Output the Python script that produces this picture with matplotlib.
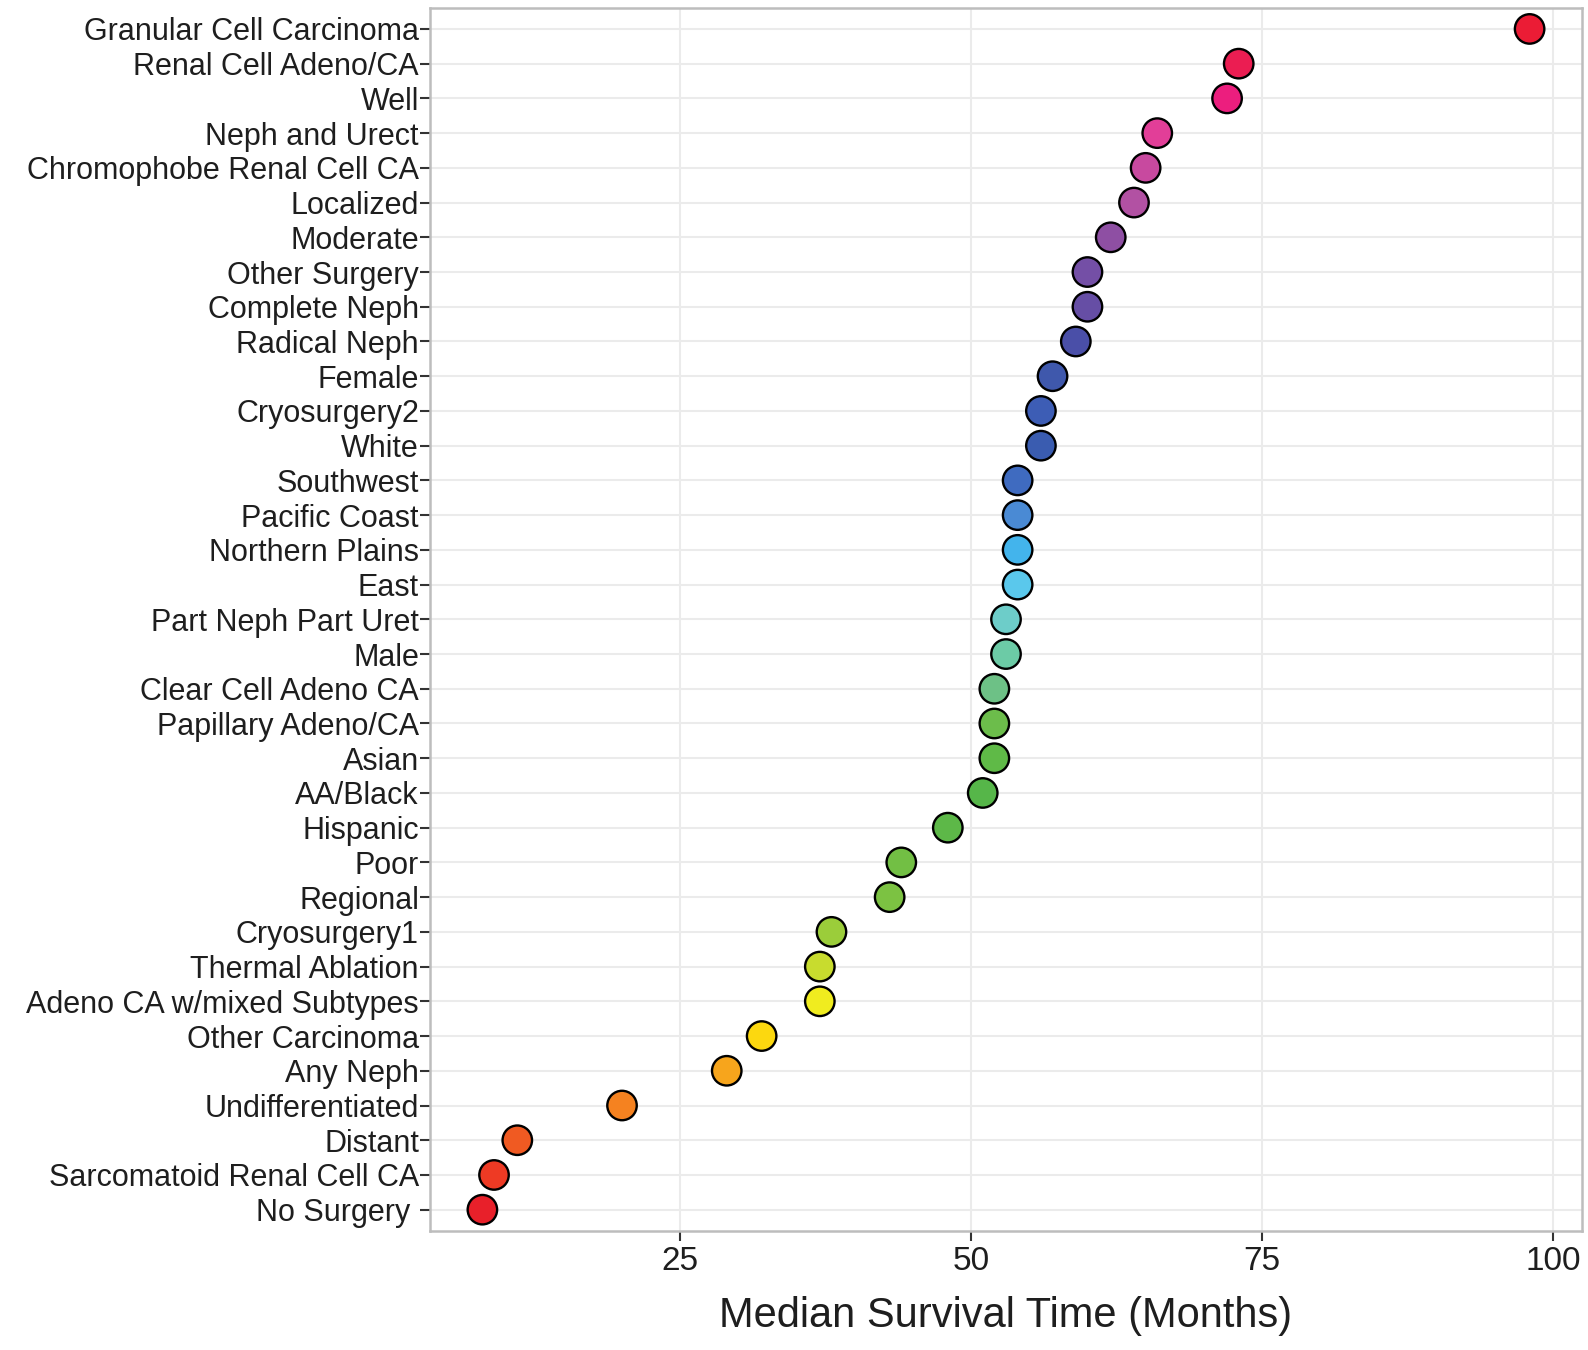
import matplotlib
matplotlib.use("Agg")
import matplotlib.pyplot as plt

# Categories listed bottom -> top
categories = [
    "No Surgery ", "Sarcomatoid Renal Cell CA", "Distant", "Undifferentiated",
    "Any Neph", "Other Carcinoma", "Adeno CA w/mixed Subtypes", "Thermal Ablation",
    "Cryosurgery1", "Regional", "Poor", "Hispanic", "AA/Black", "Asian",
    "Papillary Adeno/CA", "Clear Cell Adeno CA", "Male", "Part Neph Part Uret",
    "East", "Northern Plains", "Pacific Coast", "Southwest", "White",
    "Cryosurgery2", "Female", "Radical Neph", "Complete Neph", "Other Surgery",
    "Moderate", "Localized", "Chromophobe Renal Cell CA", "Neph and Urect",
    "Well", "Renal Cell Adeno/CA", "Granular Cell Carcinoma",
]
median_months = [
    8, 9, 11, 20, 29, 32, 37, 37, 38, 43, 44, 48, 51, 52, 52, 52, 53, 53,
    54, 54, 54, 54, 56, 56, 57, 59, 60, 60, 62, 64, 65, 66, 72, 73, 98,
]
point_colors = [
    "#e8202a", "#ee3a24", "#f05a22", "#f58220", "#f7a51c", "#fcd80f",
    "#f0ec1f", "#c8dc2e", "#9bcd3a", "#7cc242", "#72bf44", "#5db848",
    "#56b649", "#5fba47", "#6cbd4b", "#6dc186", "#6ccba6", "#6dcdc9",
    "#5ac8ec", "#43b4ec", "#4a8ad4", "#3f6bc0", "#3a5cb0", "#3d5db5",
    "#3f58ac", "#4a4fa8", "#664ea5", "#744fa6", "#8e4fa3", "#b251a3",
    "#c8499f", "#e23e98", "#ec1e7e", "#eb1d52", "#eb1c35",
]
x_ticks = [25, 50, 75, 100]
x_label = "Median Survival Time (Months)"

plt.rcParams["font.family"] = ["Liberation Sans", "DejaVu Sans"]

fig = plt.figure(figsize=(15.88, 13.5), dpi=100)
ax = fig.add_axes([0.2708, 0.0885, 0.7254, 0.9055])

ypos = list(range(1, len(categories) + 1))
ax.scatter(median_months, ypos, s=450, c=point_colors, edgecolors="black",
           linewidths=1.7, zorder=3)

ax.set_xlim(3.5, 102.5)
ax.set_ylim(0.4, len(categories) + 0.6)
ax.set_xticks(x_ticks)
ax.set_xticklabels([str(t) for t in x_ticks])
ax.set_yticks(ypos)
ax.set_yticklabels(categories)

ax.grid(True, color="#ebebeb", linewidth=1.5, zorder=0)
ax.set_axisbelow(True)
for sp in ax.spines.values():
    sp.set_color("#bdbdbd")
    sp.set_linewidth(1.8)

ax.tick_params(axis="y", labelsize=22, length=7, width=1.5, color="#333333",
               labelcolor="#1e1e1e", pad=1)
ax.tick_params(axis="x", labelsize=24, length=7, width=1.5, color="#333333",
               labelcolor="#1e1e1e", pad=4)
ax.set_xlabel(x_label, fontsize=30, color="#1e1e1e", labelpad=14)

fig.savefig("out.png", dpi=100, facecolor="white")
